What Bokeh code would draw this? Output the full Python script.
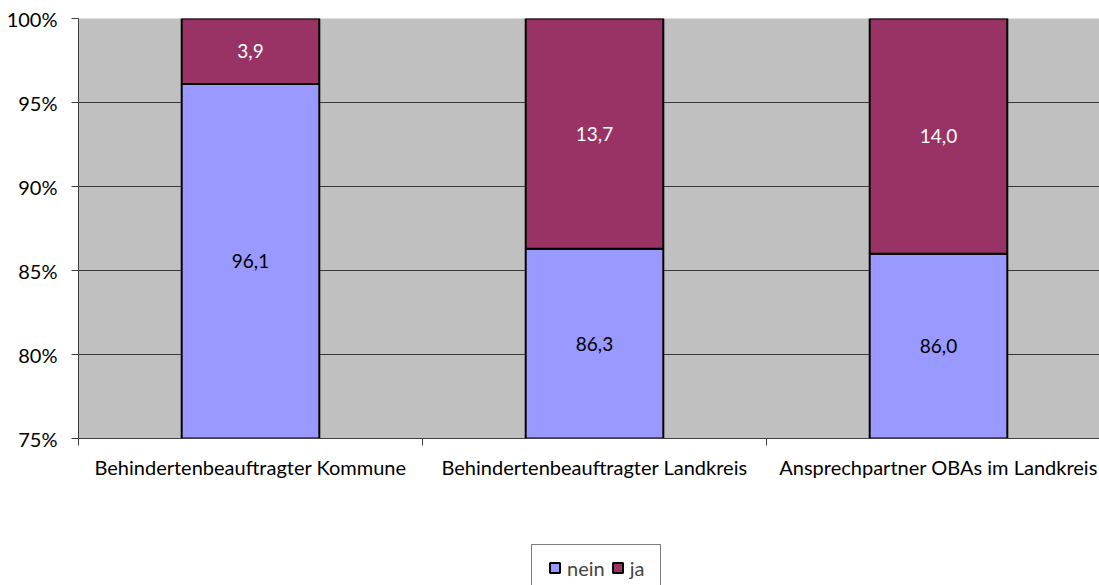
from bokeh.plotting import figure
from bokeh.layouts import column
from bokeh.models import Range1d, FixedTicker, Legend, LegendItem, ColumnDataSource, LabelSet
from bokeh.core.properties import value
from bokeh.embed import file_html
from bokeh.resources import INLINE

categories = ["Behindertenbeauftragter Kommune", "Behindertenbeauftragter Landkreis", "Ansprechpartner OBAs im Landkreis"]
nein = [96.1, 86.3, 86.0]
ja = [3.9, 13.7, 14.0]
y_ticks = [75, 80, 85, 90, 95, 100]

FONT = "Lato"
FS = "20px"
BLUE = "#9999FF"
MAROON = "#993366"

xs = [i + 0.5 for i in range(len(categories))]
src = ColumnDataSource(dict(
    x=xs,
    nein=nein,
    ja_top=[n + j for n, j in zip(nein, ja)],
    nein_mid=[(75 + n) / 2 for n in nein],
    ja_mid=[n + j / 2 for n, j in zip(nein, ja)],
    nein_lbl=[f"{v:.1f}".replace(".", ",") for v in nein],
    ja_lbl=[f"{v:.1f}".replace(".", ",") for v in ja],
))

p = figure(width=1099, height=540, output_backend="svg", toolbar_location=None,
           x_range=Range1d(0, 2.968), y_range=Range1d(75, 100),
           min_border_left=78, min_border_right=0, min_border_top=18, min_border_bottom=102)
p.border_fill_color = "white"
p.background_fill_color = "#C0C0C0"
p.outline_line_color = None

p.xgrid.grid_line_color = None
p.ygrid.ticker = FixedTicker(ticks=y_ticks[1:])
p.ygrid.grid_line_color = "#3a3a3a"
p.ygrid.grid_line_width = 1

p.vbar(x="x", bottom=0, top="nein", width=0.4, source=src,
       fill_color=BLUE, line_color="black", line_width=2)
p.vbar(x="x", bottom="nein", top="ja_top", width=0.4, source=src,
       fill_color=MAROON, line_color="black", line_width=2)

p.add_layout(LabelSet(x="x", y="nein_mid", text="nein_lbl", source=src, text_align="center",
                      text_baseline="middle", text_color="black",
                      text_font=value(FONT), text_font_size=value("19px")))
p.add_layout(LabelSet(x="x", y="ja_mid", text="ja_lbl", source=src, text_align="center",
                      text_baseline="middle", text_color="white",
                      text_font=value(FONT), text_font_size=value("19px")))

# y axis
p.yaxis.ticker = FixedTicker(ticks=y_ticks)
p.yaxis.major_label_overrides = {t: f"{t}%" for t in y_ticks}
p.yaxis.axis_line_color = "#404040"
p.yaxis.major_tick_line_color = "#404040"
p.yaxis.major_tick_out = 7
p.yaxis.major_tick_in = 0
p.yaxis.minor_tick_line_color = None
p.yaxis.major_label_text_font = FONT
p.yaxis.major_label_text_font_size = FS
p.yaxis.major_label_text_color = "black"
p.yaxis.major_label_standoff = 14

# x axis
p.xaxis.ticker = FixedTicker(ticks=xs, minor_ticks=[0, 1, 2, 3])
p.xaxis.major_label_overrides = {x: c for x, c in zip(xs, categories)}
p.xaxis.major_tick_line_color = None
p.xaxis.major_tick_out = 7
p.xaxis.minor_tick_line_color = "#404040"
p.xaxis.minor_tick_out = 7
p.xaxis.minor_tick_in = 0
p.xaxis.axis_line_color = "#404040"
p.xaxis.major_label_text_font = FONT
p.xaxis.major_label_text_font_size = FS
p.xaxis.major_label_text_color = "black"
p.xaxis.major_label_standoff = 9

# legend strip below
p2 = figure(width=1099, height=45, output_backend="svg", toolbar_location=None,
            x_range=Range1d(0, 1), y_range=Range1d(0, 1), x_axis_type=None, y_axis_type=None,
            min_border=0)
p2.outline_line_color = None
p2.background_fill_color = "white"
p2.border_fill_color = "white"
p2.xgrid.grid_line_color = None
p2.ygrid.grid_line_color = None
nan = float("nan")
d1 = p2.scatter(x=[nan], y=[nan], marker="square", size=10, fill_color=BLUE, line_color="black", line_width=2)
d2 = p2.scatter(x=[nan], y=[nan], marker="square", size=10, fill_color=MAROON, line_color="black", line_width=2)

legend = Legend(items=[LegendItem(label="nein", renderers=[d1]), LegendItem(label="ja", renderers=[d2])],
                orientation="horizontal", location=(453, -6),
                glyph_width=25, glyph_height=25, label_text_font=FONT, label_text_font_size=FS,
                border_line_color="black", border_line_width=1, background_fill_color="white",
                padding=10, spacing=0, label_standoff=0, margin=0)
p2.add_layout(legend, "center")

open("out.html", "w").write(file_html(column(p, p2, spacing=0), INLINE))
